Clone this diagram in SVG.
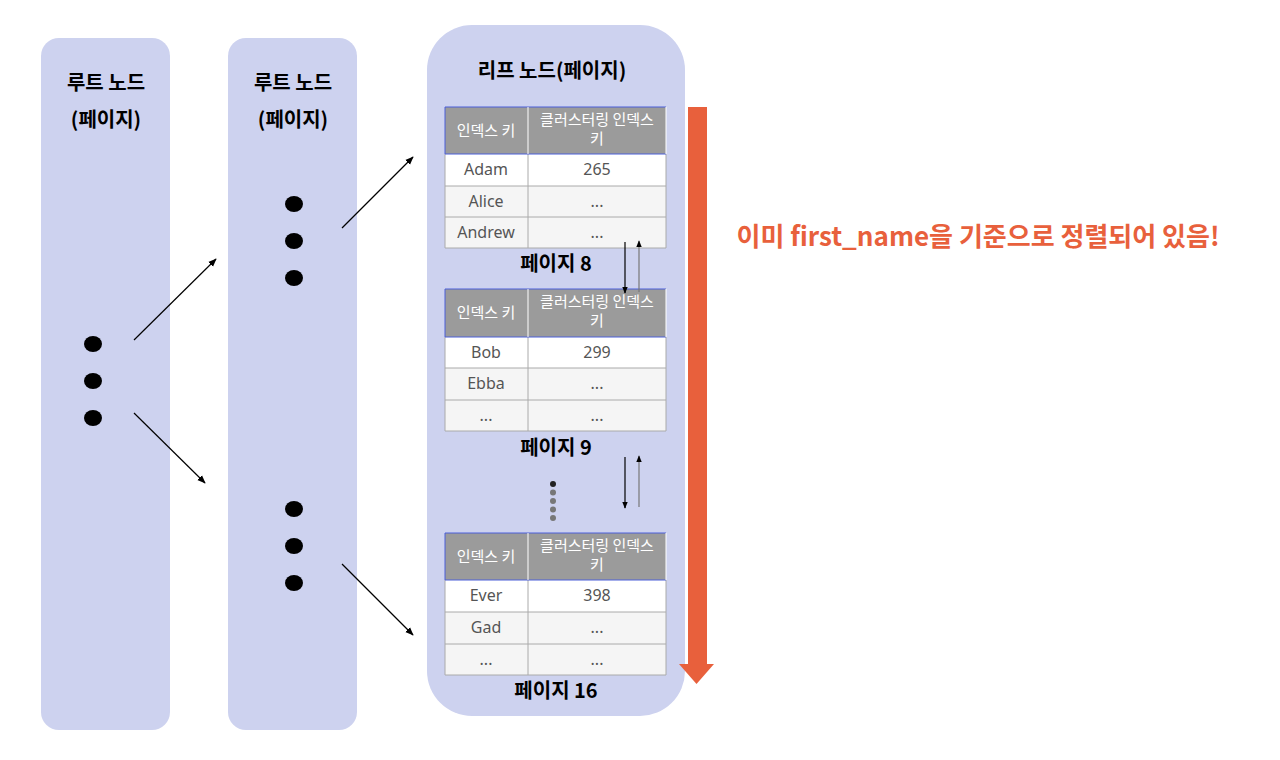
<svg xmlns="http://www.w3.org/2000/svg" width="1280" height="760" viewBox="0 0 1280 760">
<defs>
<marker id="ah" viewBox="0 0 10 10" refX="9" refY="5" markerWidth="7" markerHeight="7" orient="auto"><path d="M0,1 L10,5 L0,9 z" fill="#000"/></marker>
<marker id="ahg" viewBox="0 0 10 10" refX="9" refY="5" markerWidth="6" markerHeight="6" orient="auto"><path d="M0,1 L10,5 L0,9 z" fill="#000"/></marker>
<style>
.col{fill:#cdd2ef}
.t{font-family:"Noto Sans CJK KR","Noto Sans",sans-serif;font-weight:bold;font-size:20px;fill:#000;text-anchor:middle}
.h{fill:#9b9b9b}
.ht{font-family:"Noto Sans CJK KR",sans-serif;font-size:15px;fill:#fff;text-anchor:middle}
.c{font-family:"Noto Sans","Noto Sans CJK KR",sans-serif;font-size:16px;fill:#555;text-anchor:middle}
.g{stroke:#aaa;stroke-width:1;fill:none}
.dot{fill:#000}
</style>
</defs>
<rect width="1280" height="760" fill="#fff"/>
<g id="root1"><rect class="col" x="41" y="38" width="129" height="692" rx="18"/>
<text class="t" x="106" y="90">루트 노드</text><text class="t" x="106" y="127">(페이지)</text>
<ellipse class="dot" cx="93" cy="344" rx="9" ry="8"/><ellipse class="dot" cx="93" cy="381" rx="9" ry="8"/><ellipse class="dot" cx="93" cy="418" rx="9" ry="8"/></g>
<g id="root2"><rect class="col" x="228" y="38" width="129" height="692" rx="18"/>
<text class="t" x="293" y="90">루트 노드</text><text class="t" x="293" y="127">(페이지)</text>
<ellipse class="dot" cx="294" cy="204" rx="9" ry="8"/><ellipse class="dot" cx="294" cy="241" rx="9" ry="8"/><ellipse class="dot" cx="294" cy="278" rx="9" ry="8"/>
<ellipse class="dot" cx="294" cy="509" rx="9" ry="8"/><ellipse class="dot" cx="294" cy="546" rx="9" ry="8"/><ellipse class="dot" cx="294" cy="583" rx="9" ry="8"/></g>
<g id="leaf"><rect class="col" x="427" y="25" width="258" height="691" rx="45"/>
<text class="t" x="552" y="78">리프 노드(페이지)</text>
<g id="page8">
<rect class="h" x="445" y="107" width="221" height="47"/>
<rect x="445" y="154" width="221" height="32" fill="#fff"/><rect x="445" y="186" width="221" height="62" fill="#f5f5f5"/>
<path class="g" d="M445,186H666M445,217H666M445,248H666M528,154V248M445,154V248M666,154V248"/>
<path d="M445,107H666M445,154H666M445,107V154" stroke="#4a5fd8" fill="none"/><path d="M528,107V154M666,107V154" stroke="#fff"/>
<text class="ht" x="486" y="136">인덱스 키</text><text class="ht" x="597" y="125">클러스터링 인덱스</text><text class="ht" x="597" y="144">키</text>
<text class="c" x="486" y="175">Adam</text><text class="c" x="597" y="175">265</text>
<text class="c" x="486" y="207">Alice</text><text class="c" x="597" y="207">...</text>
<text class="c" x="486" y="238">Andrew</text><text class="c" x="597" y="238">...</text>
<text class="t" x="556" y="271">페이지 8</text></g>
<g id="page9">
<rect class="h" x="445" y="289" width="221" height="48"/>
<rect x="445" y="337" width="221" height="31" fill="#fff"/><rect x="445" y="368" width="221" height="63" fill="#f5f5f5"/>
<path class="g" d="M445,368H666M445,400H666M445,431H666M528,337V431M445,337V431M666,337V431"/>
<path d="M445,289H666M445,337H666M445,289V337" stroke="#4a5fd8" fill="none"/><path d="M528,289V337M666,289V337" stroke="#fff"/>
<text class="ht" x="486" y="318">인덱스 키</text><text class="ht" x="597" y="307">클러스터링 인덱스</text><text class="ht" x="597" y="326">키</text>
<text class="c" x="486" y="358">Bob</text><text class="c" x="597" y="358">299</text>
<text class="c" x="486" y="389">Ebba</text><text class="c" x="597" y="389">...</text>
<text class="c" x="486" y="421">...</text><text class="c" x="597" y="421">...</text>
<text class="t" x="556" y="455">페이지 9</text></g>
<g id="vdots"><circle cx="553" cy="484" r="3" fill="#222"/><circle cx="553" cy="492.5" r="3" fill="#777"/><circle cx="553" cy="501" r="3" fill="#777"/><circle cx="553" cy="509.5" r="3" fill="#777"/><circle cx="553" cy="518" r="3" fill="#777"/></g>
<g id="page16">
<rect class="h" x="445" y="533" width="221" height="47"/>
<rect x="445" y="580" width="221" height="32" fill="#fff"/><rect x="445" y="612" width="221" height="63" fill="#f5f5f5"/>
<path class="g" d="M445,612H666M445,644H666M445,675H666M528,580V675M445,580V675M666,580V675"/>
<path d="M445,533H666M445,580H666M445,533V580" stroke="#4a5fd8" fill="none"/><path d="M528,533V580M666,533V580" stroke="#fff"/>
<text class="ht" x="486" y="562">인덱스 키</text><text class="ht" x="597" y="551">클러스터링 인덱스</text><text class="ht" x="597" y="570">키</text>
<text class="c" x="486" y="601">Ever</text><text class="c" x="597" y="601">398</text>
<text class="c" x="486" y="633">Gad</text><text class="c" x="597" y="633">...</text>
<text class="c" x="486" y="665">...</text><text class="c" x="597" y="665">...</text>
<text class="t" x="556" y="698">페이지 16</text></g>
</g>
<g id="connectors" stroke="#000" stroke-width="1.2" fill="none">
<line x1="134" y1="340" x2="216" y2="259" marker-end="url(#ah)"/>
<line x1="134" y1="413" x2="205" y2="483" marker-end="url(#ah)"/>
<line x1="342" y1="228" x2="413" y2="157" marker-end="url(#ah)"/>
<line x1="342" y1="564" x2="413" y2="635" marker-end="url(#ah)"/>
<line x1="625" y1="242" x2="625" y2="293" marker-end="url(#ahg)"/>
<line x1="639" y1="292" x2="639" y2="241" stroke="#777" marker-end="url(#ahg)"/>
<line x1="625" y1="457" x2="625" y2="508" marker-end="url(#ahg)"/>
<line x1="639" y1="507" x2="639" y2="456" stroke="#777" marker-end="url(#ahg)"/>
</g>
<g id="order"><rect x="688" y="107" width="19" height="560" fill="#e8603c"/><path d="M679,664H714L696.5,684z" fill="#e8603c"/></g>
<text x="978" y="246" font-family="'Noto Sans CJK KR','Noto Sans',sans-serif" font-weight="bold" font-size="26" fill="#e8603c" text-anchor="middle">이미 first_name을 기준으로 정렬되어 있음!</text>
</svg>
